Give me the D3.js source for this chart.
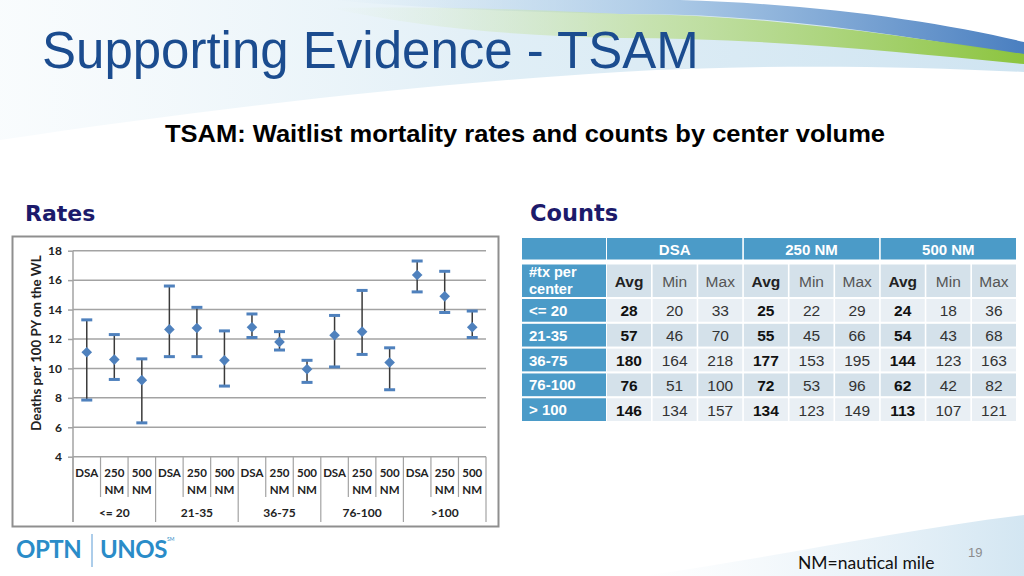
<!DOCTYPE html>
<html><head><meta charset="utf-8">
<script src="https://cdn.jsdelivr.net/npm/d3@7"></script>
<style>body{margin:0;background:#fff;}svg{display:block;}</style>
</head><body>
<svg id="c" width="1024" height="576"></svg>
<script>
// ---------- DATA ----------
const groups = ["<= 20", "21-35", "36-75", "76-100", ">100"];
const subcats = ["DSA", "250 NM", "500 NM"];
const rateMean = [11.1, 10.6, 9.2, 12.65, 12.75, 10.55, 12.8, 11.8, 9.95, 12.25, 12.5, 10.4, 16.35, 14.9, 12.8];
const rateLow  = [7.85, 9.25, 6.3, 10.8, 10.8, 8.8, 12.1, 11.25, 9.05, 10.1, 10.95, 8.55, 15.2, 13.8, 12.1];
const rateHigh = [13.3, 12.3, 10.65, 15.6, 14.15, 12.55, 13.7, 12.5, 10.55, 13.6, 15.3, 11.4, 17.3, 16.6, 13.9];
const yTicks = [4, 6, 8, 10, 12, 14, 16, 18];

const tableSchemes = ["DSA", "250 NM", "500 NM"];
const tableStats = ["Avg", "Min", "Max"];
const tableRows = ["<= 20", "21-35", "36-75", "76-100", "> 100"];
const dsaCounts  = [[28, 20, 33], [57, 46, 70], [180, 164, 218], [76, 51, 100], [146, 134, 157]];
const nm250Counts = [[25, 22, 29], [55, 45, 66], [177, 153, 195], [72, 53, 96], [134, 123, 149]];
const nm500Counts = [[24, 18, 36], [54, 43, 68], [144, 123, 163], [62, 42, 82], [113, 107, 121]];

// ---------- SVG ----------
const svg = d3.select("#c");
const defs = svg.append("defs");

// background swoosh
const gWash = defs.append("linearGradient").attr("id","wash").attr("x1","0").attr("x2","1").attr("y1","0").attr("y2","0");
gWash.append("stop").attr("offset","0").attr("stop-color","#eaf4f9").attr("stop-opacity",0.3);
gWash.append("stop").attr("offset","0.5").attr("stop-color","#d8eaf4").attr("stop-opacity",0.8);
gWash.append("stop").attr("offset","1").attr("stop-color","#cfe4f1").attr("stop-opacity",1);
const gGreen = defs.append("linearGradient").attr("id","green").attr("x1","0").attr("x2","1");
gGreen.append("stop").attr("offset","0").attr("stop-color","#d9ebc4").attr("stop-opacity",0);
gGreen.append("stop").attr("offset","0.45").attr("stop-color","#c2e0a0").attr("stop-opacity",0.8);
gGreen.append("stop").attr("offset","1").attr("stop-color","#8cc43e").attr("stop-opacity",1);
const gBlue = defs.append("linearGradient").attr("id","blue").attr("x1","0").attr("x2","1");
gBlue.append("stop").attr("offset","0").attr("stop-color","#c5dcef").attr("stop-opacity",0);
gBlue.append("stop").attr("offset","0.5").attr("stop-color","#a4c4e4").attr("stop-opacity",0.9);
gBlue.append("stop").attr("offset","1").attr("stop-color","#4a7fc0").attr("stop-opacity",1);
const gBot = defs.append("linearGradient").attr("id","bot").attr("x1","0").attr("x2","1");
gBot.append("stop").attr("offset","0").attr("stop-color","#e3eff7").attr("stop-opacity",0);
gBot.append("stop").attr("offset","1").attr("stop-color","#d3e6f2").attr("stop-opacity",1);

svg.append("path").attr("fill","url(#wash)")
  .attr("d","M0,0 L1024,0 L1024,72 C900,66 760,64 620,72 C420,84 200,110 0,140 Z");
svg.append("path").attr("fill","url(#blue)")
  .attr("d","M330,0 L1024,0 L1024,56 C900,35 760,12 620,14 C520,12 420,8 330,0 Z");
svg.append("path").attr("fill","#ffffff")
  .attr("d","M680,0 L1024,0 L1024,42 C940,22 820,4 680,0 Z");
svg.append("path").attr("fill","url(#green)")
  .attr("d","M330,8 C450,6 540,10 620,14 C760,14 900,36 1024,54 L1024,64 C900,52 760,38 620,38 C520,36 420,28 330,8 Z");
svg.append("path").attr("fill","url(#bot)")
  .attr("d","M640,576 C760,560 900,530 1024,515 L1024,576 Z");

// titles
svg.append("text").attr("x",42).attr("y",68)
  .attr("font-family","Liberation Sans, Arial, sans-serif").attr("font-size",51)
  .attr("fill","#1b4c8f").text("Supporting Evidence - TSAM");
svg.append("text").attr("x",165).attr("y",142)
  .attr("font-family","Liberation Sans, Arial, sans-serif").attr("font-size",23).attr("font-weight","bold")
  .attr("textLength",720).attr("lengthAdjust","spacingAndGlyphs")
  .attr("fill","#000").text("TSAM: Waitlist mortality rates and counts by center volume");
svg.append("text").attr("x",25).attr("y",221)
  .attr("font-family","DejaVu Sans, sans-serif").attr("font-size",22).attr("font-weight","bold")
  .attr("fill","#1c1a6b").text("Rates");
svg.append("text").attr("x",530).attr("y",221)
  .attr("font-family","DejaVu Sans, sans-serif").attr("font-size",22.5).attr("font-weight","bold")
  .attr("fill","#1c1a6b").text("Counts");

// ---------- RATES CHART ----------
svg.append("rect").attr("x",12.5).attr("y",236.5).attr("width",486).attr("height",290)
  .attr("fill","#fff").attr("stroke","#8f8f8f").attr("stroke-width",2);

const n = rateMean.length;
const x = d3.scaleBand().domain(d3.range(n)).range([73, 486]);
const y = d3.scaleLinear().domain([4, 18]).range([456.7, 250.7]);
const chart = svg.append("g").attr("font-family","Lato, sans-serif");

// gridlines
chart.selectAll("line.grid").data(yTicks).join("line").attr("class","grid")
  .attr("x1",73).attr("x2",486).attr("y1",d=>y(d)).attr("y2",d=>y(d))
  .attr("stroke","#a3a3a3").attr("stroke-width",1.5);

// y axis
const yAxis = d3.axisLeft(y).tickValues(yTicks).tickSize(5).tickPadding(6);
const ya = chart.append("g").attr("transform","translate(73,0)").call(yAxis);
ya.select(".domain").remove();
ya.selectAll(".tick line").attr("stroke","#a3a3a3").attr("stroke-width",1.5);
ya.selectAll(".tick text").attr("font-family","Lato, sans-serif").attr("font-size",12)
  .attr("font-weight","bold").attr("fill","#222");
chart.append("line").attr("x1",73).attr("x2",73).attr("y1",y(18)).attr("y2",522)
  .attr("stroke","#a3a3a3").attr("stroke-width",1.5);

chart.append("text").attr("transform","translate(41,343) rotate(-90)").attr("text-anchor","middle")
  .attr("font-size",13.3).attr("font-weight","bold").attr("fill","#222").text("Deaths per 100 PY on the WL");

// category axis
const sepX = d3.range(n + 1).map(i => i === n ? x.range()[1] : x(i));
chart.selectAll("line.sep").data(sepX).join("line").attr("class","sep")
  .attr("x1",d=>d).attr("x2",d=>d).attr("y1",y(4))
  .attr("y2",(d,i)=> i % 3 === 0 ? 522 : 497)
  .attr("stroke","#a3a3a3").attr("stroke-width",1.2);
const catG = chart.selectAll("g.cat").data(d3.range(n)).join("g").attr("class","cat")
  .attr("transform",i=>`translate(${x(i)+x.bandwidth()/2},0)`);
catG.each(function(i){
  const parts = subcats[i % 3].split(" ");
  d3.select(this).selectAll("text").data(parts).join("text")
    .attr("y",(d,k)=>477 + k*17).attr("text-anchor","middle")
    .attr("font-size",11.5).attr("font-weight","bold").attr("fill","#222").text(d=>d);
});
chart.selectAll("text.grp").data(groups).join("text").attr("class","grp")
  .attr("x",(d,k)=> (x(k*3) + x(k*3+2) + x.bandwidth())/2).attr("y",517)
  .attr("text-anchor","middle").attr("font-size",12).attr("font-weight","bold").attr("fill","#222").text(d=>d);

// error bars
const pts = chart.selectAll("g.pt").data(d3.range(n)).join("g").attr("class","pt")
  .attr("transform",i=>`translate(${x(i)+x.bandwidth()/2},0)`);
pts.append("line").attr("y1",i=>y(rateLow[i])).attr("y2",i=>y(rateHigh[i]))
  .attr("stroke","#3a3a3a").attr("stroke-width",1.5);
pts.append("line").attr("x1",-5.5).attr("x2",5.5).attr("y1",i=>y(rateLow[i])).attr("y2",i=>y(rateLow[i]))
  .attr("stroke","#4f81bd").attr("stroke-width",3);
pts.append("line").attr("x1",-5.5).attr("x2",5.5).attr("y1",i=>y(rateHigh[i])).attr("y2",i=>y(rateHigh[i]))
  .attr("stroke","#4f81bd").attr("stroke-width",3);
pts.append("path").attr("d",d3.symbol(d3.symbolDiamond2, 72))
  .attr("transform",i=>`translate(0,${y(rateMean[i])})`)
  .attr("fill","#4f81bd");

// ---------- COUNTS TABLE ----------
const tbl = svg.append("g").attr("font-family","Liberation Sans, Arial, sans-serif");
const colKeys = d3.range(9);
const cx = d3.scaleBand().domain(colKeys).range([607, 1016]).paddingInner(0.035);
const ry = d3.scaleBand().domain(d3.range(tableRows.length)).range([299, 421]).paddingInner(0.085);
const headBlue = "#4b9bc8", lightA = "#e9eff4", lightB = "#d4e1ea";
const allCounts = [dsaCounts, nm250Counts, nm500Counts];

// header row
tbl.append("rect").attr("x",522).attr("y",238).attr("width",84).attr("height",21.5).attr("fill",headBlue);
tableSchemes.forEach((s,k)=>{
  const x0 = cx(k*3), x1 = cx(k*3+2) + cx.bandwidth();
  tbl.append("rect").attr("x",x0).attr("y",238).attr("width",x1-x0).attr("height",21.5).attr("fill",headBlue);
  tbl.append("text").attr("x",(x0+x1)/2).attr("y",254.5).attr("text-anchor","middle")
    .attr("font-size",15).attr("font-weight","bold").attr("fill","#fff").text(s);
});
// subheader
tbl.append("rect").attr("x",522).attr("y",264.5).attr("width",84).attr("height",32.5).attr("fill",headBlue);
tbl.append("text").attr("x",529).attr("y",276.5).attr("font-size",14.5).attr("font-weight","bold").attr("fill","#fff").text("#tx per");
tbl.append("text").attr("x",529).attr("y",293.5).attr("font-size",14.5).attr("font-weight","bold").attr("fill","#fff").text("center");
colKeys.forEach(c=>{
  tbl.append("rect").attr("x",cx(c)).attr("y",264.5).attr("width",cx.bandwidth()).attr("height",32.5).attr("fill",lightB);
  tbl.append("text").attr("x",cx(c)+cx.bandwidth()/2).attr("y",286.5).attr("text-anchor","middle")
    .attr("font-size",15.5).attr("font-weight",c%3===0?"bold":"normal")
    .attr("fill",c%3===0?"#222":"#555").text(tableStats[c%3]);
});
// body
tableRows.forEach((r,ri)=>{
  const yy = ry(ri), h = ry.bandwidth();
  tbl.append("rect").attr("x",522).attr("y",yy).attr("width",84).attr("height",h).attr("fill",headBlue);
  tbl.append("text").attr("x",529).attr("y",yy+h/2+5.5).attr("font-size",15).attr("font-weight","bold")
    .attr("fill","#fff").text(r);
  colKeys.forEach(c=>{
    const v = allCounts[Math.floor(c/3)][ri][c%3];
    tbl.append("rect").attr("x",cx(c)).attr("y",yy).attr("width",cx.bandwidth()).attr("height",h)
      .attr("fill", ri%2===0 ? lightA : lightB);
    tbl.append("text").attr("x",cx(c)+cx.bandwidth()/2).attr("y",yy+h/2+6).attr("text-anchor","middle")
      .attr("font-size",15.5).attr("font-weight",c%3===0?"bold":"normal")
      .attr("fill",c%3===0?"#111":"#333").text(v);
  });
});

// ---------- FOOTER ----------
svg.append("text").attr("x",16).attr("y",558).attr("font-family","Lato, sans-serif").attr("font-size",24)
  .attr("font-weight","bold").attr("fill","#2a8cc8").attr("letter-spacing",-0.5).text("OPTN");
svg.append("line").attr("x1",92).attr("x2",92).attr("y1",534).attr("y2",567).attr("stroke","#5b9bd5").attr("stroke-width",1);
svg.append("text").attr("x",100).attr("y",558).attr("font-family","Lato, sans-serif").attr("font-size",24)
  .attr("font-weight","bold").attr("fill","#2a8cc8").attr("letter-spacing",-0.5).text("UNOS");
svg.append("text").attr("x",167).attr("y",541).attr("font-family","Lato, sans-serif").attr("font-size",5)
  .attr("fill","#2a8cc8").text("SM");
svg.append("text").attr("x",968).attr("y",557).attr("font-family","Liberation Sans, Arial, sans-serif").attr("font-size",13)
  .attr("fill","#8c8c8c").text("19");
svg.append("text").attr("x",798).attr("y",569).attr("font-family","Lato, sans-serif").attr("font-size",17.5)
  .attr("fill","#111").text("NM=nautical mile");
</script>
</body></html>
